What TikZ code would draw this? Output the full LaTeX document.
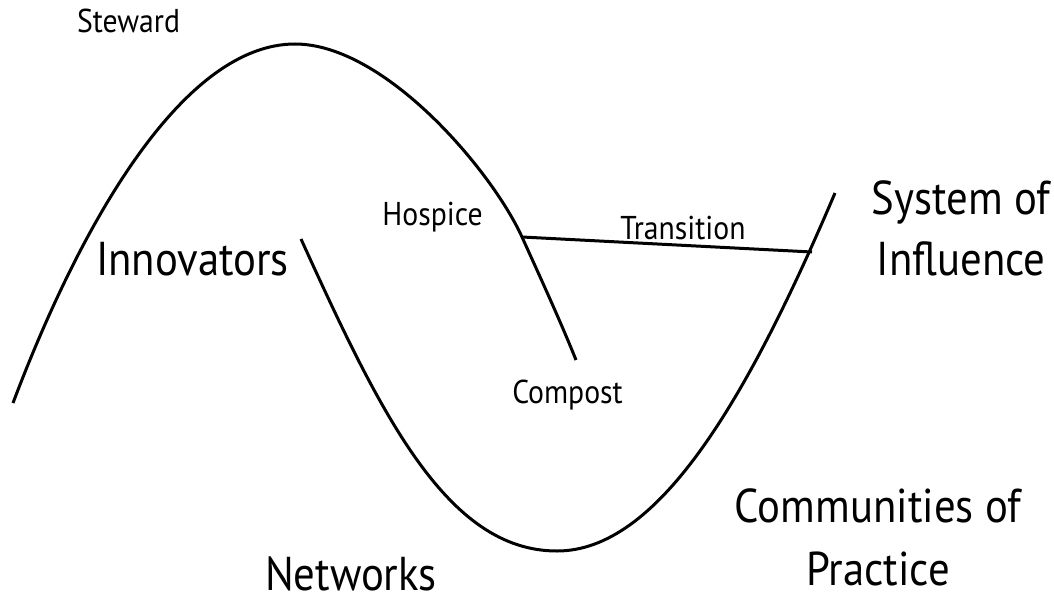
\documentclass[tikz,border=0pt]{standalone}
\usepackage{fontspec}
\setmainfont{PT Sans}[FakeStretch=0.9]
\begin{document}
\begin{tikzpicture}[x=1pt,y=-1pt,
  curve/.style={line width=3pt, line cap=butt},
  small/.style={font=\fontsize{33}{39}\selectfont, inner sep=0pt, anchor=base},
  big/.style={font=\fontsize{47.5}{61}\selectfont, inner sep=0pt, anchor=base, align=center}]
\useasboundingbox (0,0) rectangle (1054,599);
% first loop (rise and decline)
\draw[curve] (13,403) .. controls (83,217.5) and (185,44) .. (295,44)
  .. controls (385,44) and (492,171) .. (522,237) coordinate (hosp)
  .. controls (536,268) and (560,320) .. (576,360);
% second loop (emerging system)
\draw[curve] (301,239) .. controls (381,415) and (447,551) .. (557,551)
  .. controls (657,551) and (745,404.5) .. (835,193);
\coordinate (sys) at (812,252);
\draw[curve] (hosp) -- (sys);
\node[small] (steward) at (128.5,33) {Steward};
\node[small] (hospice) at (432.5,225) {Hospice};
\node[small] (transition) at (683,239) {Transition};
\node[small] (compost) at (567.5,403) {Compost};
\node[big] (innovators) at (192.5,275) {Innovators};
\node[big] (networks) at (351,590) {Networks};
\node[big] (system) at (961,275) {System of\\Influence};
\node[big, font=\fontsize{47.5}{63}\selectfont] (communities) at (878,585) {Communities of\\Practice};
\end{tikzpicture}
\end{document}
